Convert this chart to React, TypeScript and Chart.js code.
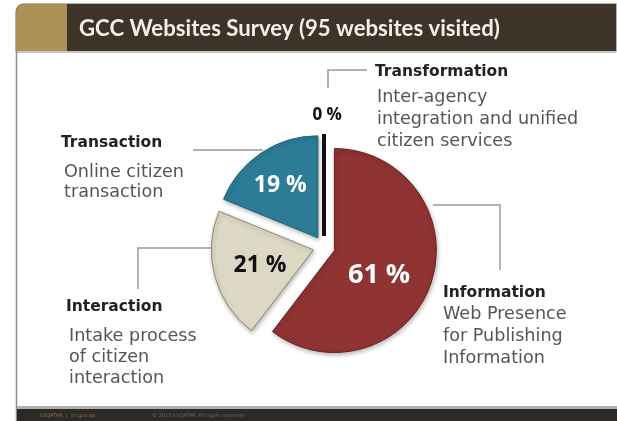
import React, { useEffect, useRef } from "react";
import { Chart, registerables } from "chart.js";

Chart.register(...registerables);

// ---------- data ----------
const categories = ["Information", "Interaction", "Transaction", "Transformation"];
const shares = [61, 21, 19, 0];
const percentLabels = ["61 %", "21 %", "19 %", "0 %"];
const descriptions = [
  ["Web Presence", "for Publishing", "Information"],
  ["Intake process", "of citizen", "interaction"],
  ["Online citizen", "transaction"],
  ["Inter-agency", "integration and unified", "citizen services"],
];
const titleText = "GCC Websites Survey (95 websites visited)";
const footerLeft = "ictQATAR  |  ict.gov.qa";
const footerRight = "© 2013 ictQATAR. All rights reserved";

// ---------- styles ----------
const sliceColors = ["#8f3333", "#ddd8c3", "#2c7c97", "#111111"];
const sliceBorders = ["#6c2424", "#8f8a76", "#236579", "#111111"];
const W = 617;
const H = 421;
const EXPLODE = 11;

// label placement: [radius factor, angle nudge (deg), font size, color]
const pctStyle: [number, number, number, string][] = [
  [0.49, 8, 27, "#ffffff"],
  [0.54, 1, 23, "#111111"],
  [0.645, -1, 23, "#ffffff"],
  [1.2, 1.5, 17, "#111111"],
];

// callouts: title pos, description pos, line spacing, leader polyline
const callouts = [
  { tx: 443, ty: 297, dx: 443, dy: 319, ls: 22, line: [[433, 205], [500, 205], [500, 270]] },
  { tx: 66, ty: 311, dx: 69, dy: 341, ls: 21, line: [[211, 248], [138, 248], [138, 289]] },
  { tx: 61, ty: 147, dx: 64, dy: 177, ls: 20, line: [[263, 150], [193, 150]] },
  { tx: 375, ty: 76, dx: 377, dy: 102, ls: 22, line: [[328, 88], [328, 70], [367, 70]] },
];

const framePlugin = {
  id: "slideFrame",
  beforeDraw(chart: any) {
    const ctx: CanvasRenderingContext2D = chart.ctx;
    ctx.save();
    ctx.fillStyle = "#ffffff";
    ctx.fillRect(0, 0, W, H);

    // title bar
    const x0 = 16, y0 = 4, x1 = 616, y1 = 51, r = 9;
    ctx.beginPath();
    ctx.moveTo(x0, y1);
    ctx.lineTo(x0, y0 + r);
    ctx.quadraticCurveTo(x0, y0, x0 + r, y0);
    ctx.lineTo(x1, y0);
    ctx.lineTo(x1, y1);
    ctx.closePath();
    ctx.strokeStyle = "#9a9a9a";
    ctx.lineWidth = 1.5;
    ctx.stroke();
    ctx.fillStyle = "#3d3329";
    ctx.fill();
    ctx.save();
    ctx.clip();
    ctx.fillStyle = "#ad9055";
    ctx.fillRect(x0, y0, 51, y1 - y0);
    ctx.restore();
    // shadow line under bar
    ctx.fillStyle = "#c4c4c4";
    ctx.fillRect(x0, y1, x1 - x0, 2);

    // left border
    ctx.strokeStyle = "#8a8a8a";
    ctx.lineWidth = 1.5;
    ctx.beginPath();
    ctx.moveTo(16.5, y1);
    ctx.lineTo(16.5, H);
    ctx.stroke();

    // title text (fit to width)
    const family = "Lato, 'Open Sans', sans-serif";
    ctx.font = `bold 24px ${family}`;
    const m = ctx.measureText(titleText).width;
    const size = (24 * 421) / m;
    ctx.font = `bold ${size}px ${family}`;
    ctx.fillStyle = "#f3f0ea";
    ctx.textBaseline = "middle";
    ctx.textAlign = "left";
    ctx.fillText(titleText, 79, 28.5);

    // footer
    ctx.fillStyle = "#b0b0b0";
    ctx.fillRect(17, 406, W - 17, 3);
    ctx.fillStyle = "#2c2926";
    ctx.fillRect(17, 409, W - 17, H - 409);
    ctx.font = "5px 'DejaVu Sans'";
    ctx.textBaseline = "middle";
    ctx.fillStyle = "#8d7641";
    ctx.fillText(footerLeft, 40, 415.5);
    ctx.fillStyle = "#6e6a66";
    ctx.fillText(footerRight, 152, 415.5);
    ctx.restore();
  },
};

const piePlugin = {
  id: "explodedPie",
  beforeDatasetDraw(chart: any, args: any) {
    const ctx: CanvasRenderingContext2D = chart.ctx;
    args.meta.data.forEach((arc: any) => {
      const { startAngle, endAngle, x, y, outerRadius } = arc;
      const mid = (startAngle + endAngle) / 2;
      ctx.save();
      ctx.translate(Math.cos(mid) * EXPLODE, Math.sin(mid) * EXPLODE);
      if (endAngle - startAngle === 0) {
        ctx.beginPath();
        ctx.moveTo(x, y);
        ctx.lineTo(x + Math.cos(startAngle) * outerRadius, y + Math.sin(startAngle) * outerRadius);
        ctx.strokeStyle = "#111111";
        ctx.lineWidth = 4;
        ctx.stroke();
      } else {
        ctx.shadowColor = "rgba(0,0,0,0.28)";
        ctx.shadowBlur = 4;
        ctx.shadowOffsetX = 1;
        ctx.shadowOffsetY = 2;
        arc.draw(ctx);
      }
      ctx.restore();
    });
    return false;
  },
  afterDatasetsDraw(chart: any) {
    const ctx: CanvasRenderingContext2D = chart.ctx;
    const meta = chart.getDatasetMeta(0);
    ctx.save();
    meta.data.forEach((arc: any, i: number) => {
      const { startAngle, endAngle, x, y, outerRadius } = arc;
      const mid = (startAngle + endAngle) / 2;
      const vx = x + Math.cos(mid) * EXPLODE;
      const vy = y + Math.sin(mid) * EXPLODE;
      const [rf, nudge, fs, col] = pctStyle[i];
      const a = mid + (nudge * Math.PI) / 180;
      const lx = vx + Math.cos(a) * outerRadius * rf;
      const ly = vy + Math.sin(a) * outerRadius * rf;
      ctx.font = `bold ${fs}px 'Open Sans', sans-serif`;
      ctx.fillStyle = col;
      ctx.textAlign = "center";
      ctx.textBaseline = "alphabetic";
      ctx.fillText(percentLabels[i], lx, ly + fs * 0.36);
    });

    // callouts
    callouts.forEach((c, i) => {
      ctx.strokeStyle = "#9b9b9b";
      ctx.lineWidth = 1.5;
      ctx.beginPath();
      c.line.forEach((p, k) => (k === 0 ? ctx.moveTo(p[0], p[1]) : ctx.lineTo(p[0], p[1])));
      ctx.stroke();
      ctx.textAlign = "left";
      ctx.textBaseline = "alphabetic";
      ctx.font = "bold 15.5px 'DejaVu Sans', sans-serif";
      ctx.fillStyle = "#222222";
      ctx.fillText(categories[i], c.tx, c.ty);
      ctx.font = "17.6px 'DejaVu Sans', sans-serif";
      ctx.fillStyle = "#555555";
      descriptions[i].forEach((d, k) => ctx.fillText(d, c.dx, c.dy + k * c.ls));
    });
    ctx.restore();
  },
};

export default function App() {
  const ref = useRef<HTMLCanvasElement | null>(null);
  useEffect(() => {
    document.body.style.margin = "0";
    const canvas = ref.current;
    if (!canvas) return;
    const chart = new Chart(canvas, {
      type: "pie",
      data: {
        labels: categories,
        datasets: [
          {
            data: shares,
            backgroundColor: sliceColors,
            borderColor: sliceBorders,
            borderWidth: 1,
          },
        ],
      },
      options: {
        responsive: false,
        animation: false,
        events: [],
        radius: 102,
        layout: { padding: { left: 200, right: 169, top: 140, bottom: 67 } },
        plugins: {
          legend: { display: false },
          tooltip: { enabled: false },
        },
      } as any,
      plugins: [framePlugin, piePlugin],
    });
    return () => chart.destroy();
  }, []);
  return (
    <div style={{ width: W, height: H }}>
      <canvas ref={ref} width={W} height={H} style={{ display: "block" }} />
    </div>
  );
}
